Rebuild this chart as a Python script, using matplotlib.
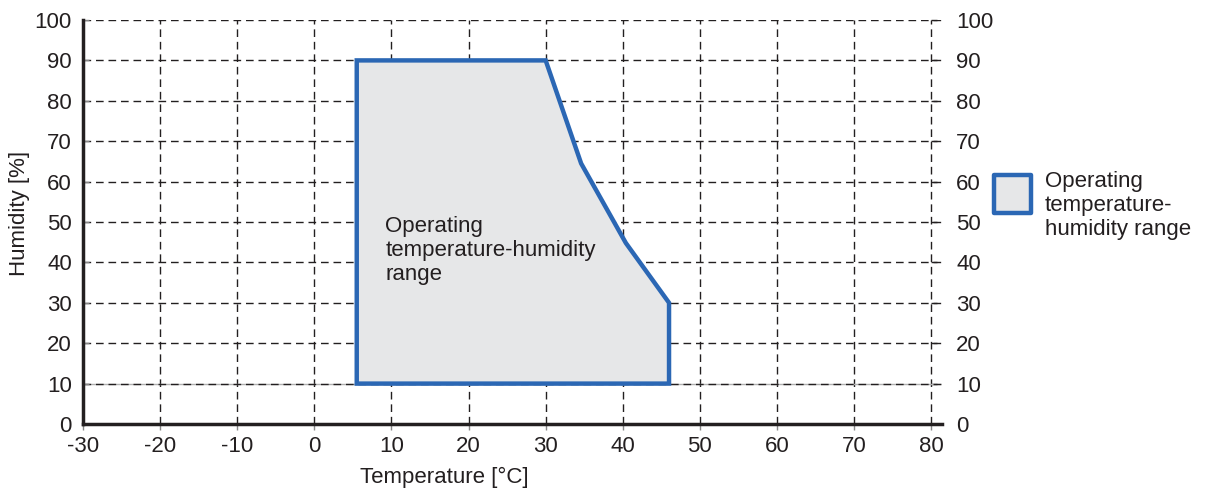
import numpy as np
import matplotlib as mpl
import matplotlib.pyplot as plt
from matplotlib.patches import Polygon, Rectangle

plt.rcParams['font.family'] = ['Liberation Sans', 'DejaVu Sans']
plt.rcParams['font.size'] = 16
plt.rcParams['axes.unicode_minus'] = False

# operating region outline (temperature degC, humidity %)
temp = [5.5, 30, 34.6, 40.4, 46.0, 46.0, 5.5]
humid = [90, 90, 64.5, 44.8, 30, 10, 10]
label = "Operating\ntemperature-humidity\nrange"
legend_label = "Operating\ntemperature-\nhumidity range"
xticks = np.arange(-30, 81, 10)
yticks = np.arange(0, 101, 10)

fillColor = '#e6e7e8'
edgeColor = '#2b67b4'
textColor = '#231f20'

fig = plt.figure(figsize=(12.13, 4.92), dpi=100)
ax = fig.add_axes([83/1213, 68/492, (942-83)/1213, (424-20)/492])
ax.set_xlim(-30, 81.4)
ax.set_ylim(0, 100)

# grid
for x in xticks[1:]:
    ax.axvline(x, color='#231f20', lw=1.0, ls=(0, (5.5, 3.5)), zorder=1)
for y in yticks[1:]:
    if y == 10:
        ax.axhline(y, color='#b0b0b0', lw=1.0, zorder=1)
    ax.axhline(y, color='#231f20', lw=1.0, ls=(0, (5.5, 3.5)), zorder=1)

poly = Polygon(np.column_stack([temp, humid]), closed=True, facecolor=fillColor,
               edgecolor=edgeColor, lw=3.2, joinstyle='miter', zorder=3)
ax.add_patch(poly)
ax.text(9.2, 51.6, label, fontsize=16, color=textColor, va='top', ha='left',
        linespacing=1.2, zorder=4)

for s in ['top', 'right']:
    ax.spines[s].set_visible(False)
for s in ['left', 'bottom']:
    ax.spines[s].set_linewidth(2.5)
    ax.spines[s].set_color('#231f20')

ax.set_xticks(xticks)
ax.set_yticks(yticks)
ax.tick_params(axis='both', colors='#888888', labelcolor=textColor, length=4,
               width=1, labelsize=16)
ax.tick_params(axis='x', direction='out', pad=5)
ax.tick_params(axis='y', direction='in', pad=8)

sec = ax.secondary_yaxis((80 + 30) / 111.4)
sec.set_yticks(yticks)
sec.spines['right'].set_visible(False)
sec.tick_params(direction='out', length=4, width=1, colors='#231f20',
                labelcolor=textColor, labelsize=16, pad=14)

ax.set_xlabel("Temperature [°C]", fontsize=16, color=textColor)
ax.set_ylabel("Humidity [%]", fontsize=16, color=textColor)
ax.xaxis.set_label_coords((444 - 83) / 859, -0.105)
ax.yaxis.set_label_coords(-0.062, (424 - 213) / 404)

# legend
fig.patches.append(Rectangle((994/1213, 1 - 213/492), 37/1213, 38/492,
                             transform=fig.transFigure, facecolor=fillColor,
                             edgecolor=edgeColor, lw=3.2, joinstyle='round'))
fig.text(1045/1213, 1 - 171/492, legend_label, fontsize=16, color=textColor,
         va='top', ha='left', linespacing=1.2)

fig.savefig("out.png", dpi=100)
